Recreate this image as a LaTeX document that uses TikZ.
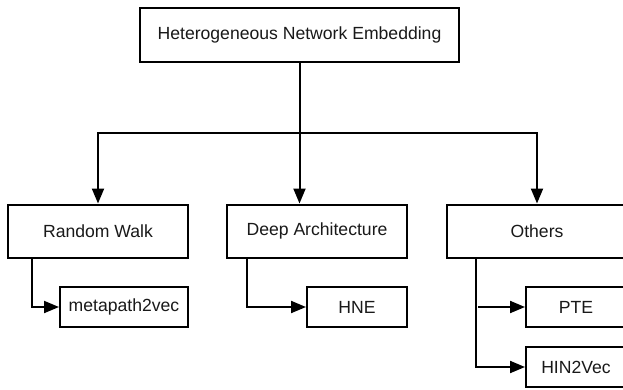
\documentclass[tikz,border=0pt]{standalone}
\usepackage{fontspec}
\setmainfont{Liberation Sans}
\usetikzlibrary{arrows.meta}
\begin{document}
\begin{tikzpicture}[x=1pt,y=-1pt,
  box/.style={draw=black,line width=2pt,fill=white,inner sep=0pt,
    font=\fontsize{17.6}{20}\selectfont,text=black!90},
  link/.style={line width=2pt,-{Triangle[length=15pt,width=12pt]}},
  plain/.style={line width=2pt}]
\useasboundingbox (0,0) rectangle (623,389);
\clip (0,0) rectangle (623,389);
% root
\node[box,minimum width=319pt,minimum height=54pt] (root) at (299.5,35) {Heterogeneous Network Embedding};
% categories
\node[box,minimum width=180pt,minimum height=53pt] (rw) at (98,231) {Random Walk};
\node[box,minimum width=180pt,minimum height=53pt] (da) at (317,231) {Deep Architecture};
\node[box,minimum width=180pt,minimum height=53pt] (oth) at (537,231) {Others};
% methods
\node[box,minimum width=128pt,minimum height=40pt] (mp) at (124,307) {metapath2vec};
\node[box,minimum width=100pt,minimum height=40pt] (hne) at (357,307) {HNE};
\node[box,minimum width=100pt,minimum height=40pt] (pte) at (576,307) {PTE};
\node[box,minimum width=100pt,minimum height=40pt] (hin) at (576,367) {HIN2Vec};
% tree from the root
\coordinate (split) at (root.south |- 0,133);
\draw[plain] (root.south) -- (split);
\draw[link] (split) -| (rw.north);
\draw[link] (split) -| (oth.north);
\draw[link] (split) -- (split |- da.north);
% branches to the methods
\coordinate (rwb) at ([xshift=25pt]rw.south west);
\draw[link] (rwb) |- (mp.west);
\coordinate (dab) at ([xshift=21pt]da.south west);
\draw[link] (dab) |- (hne.west);
\coordinate (othb) at ([xshift=30pt]oth.south west);
\draw[link] (othb) |- (hin.west);
\coordinate (pteb) at (othb |- pte.west);
\draw[link] ([xshift=2pt]pteb) -- (pte.west);
\end{tikzpicture}
\end{document}
